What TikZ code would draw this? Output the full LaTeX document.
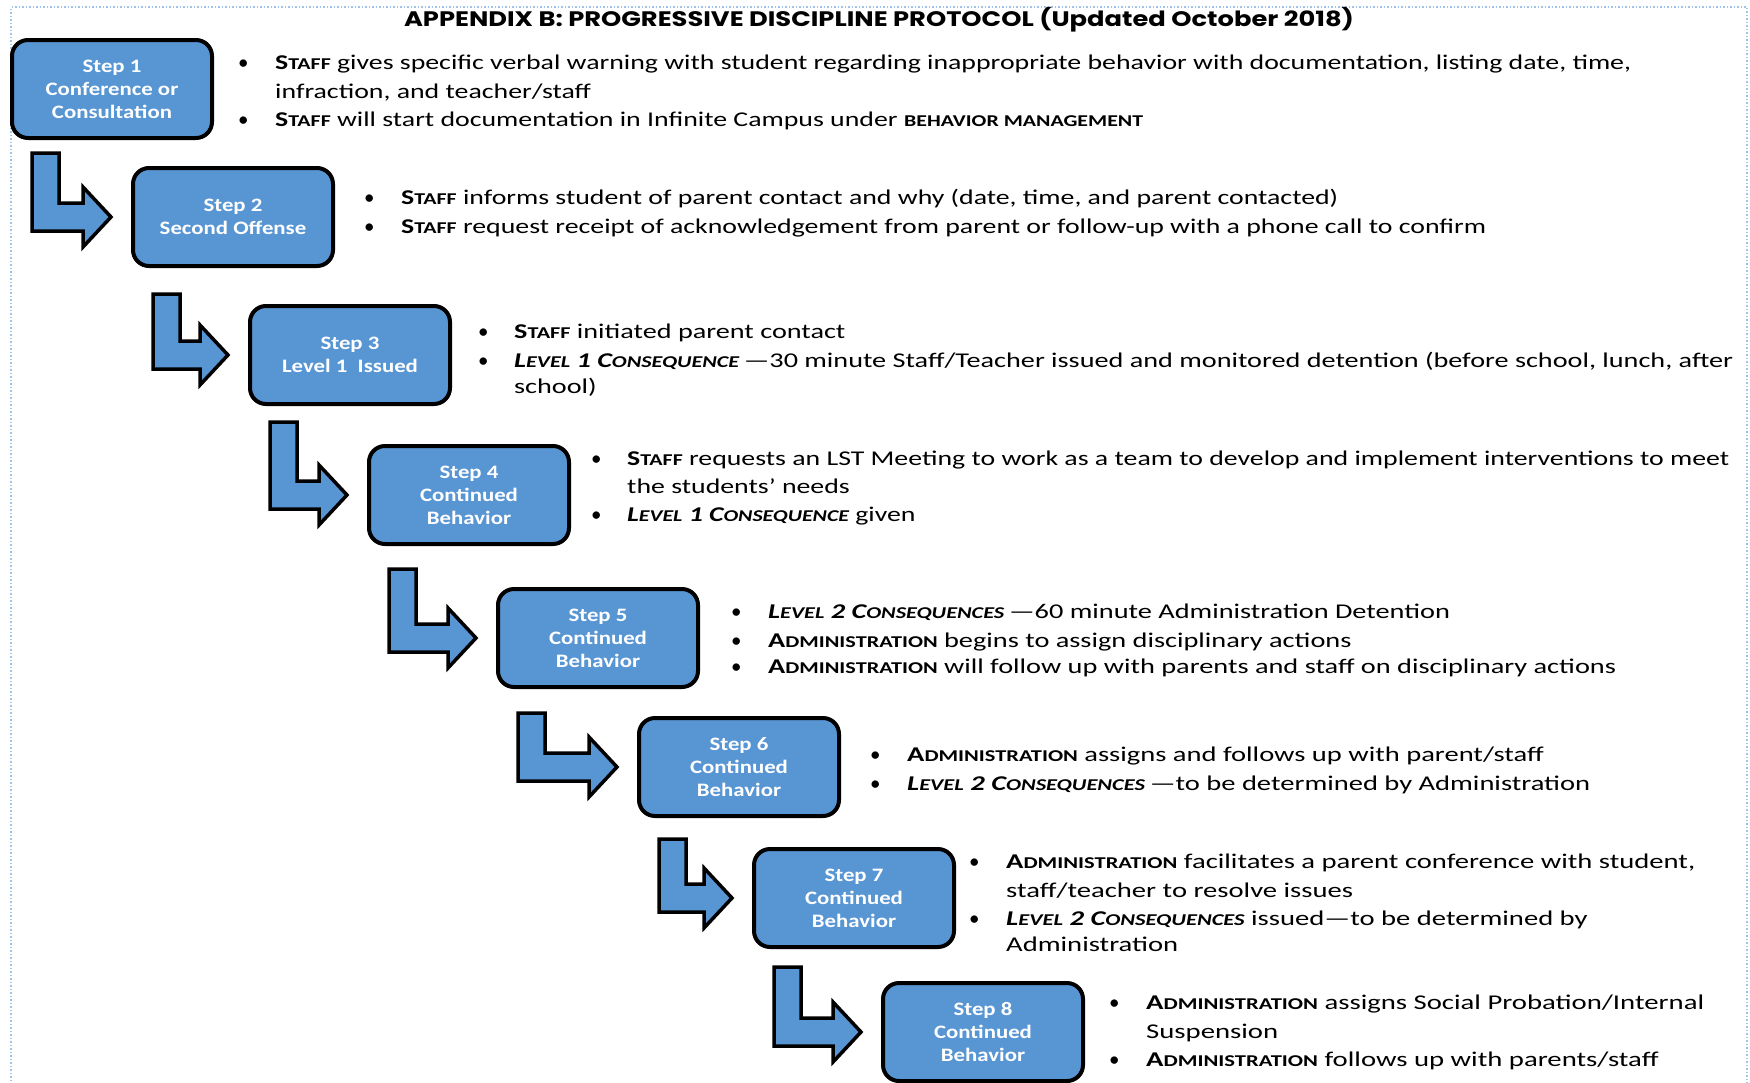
\documentclass[tikz,border=0pt]{standalone}
\usepackage{fontspec}
\usepackage{graphicx}
\usetikzlibrary{calc}
\setmainfont{Carlito}
\newfontfamily\boxfont{Carlito}[FakeStretch=1.2]
\newfontfamily\titlefont{Poppins}
\definecolor{stepblue}{RGB}{88,149,211}
\definecolor{framecol}{RGB}{160,195,235}
\newsavebox\fitbox
\newlength\fitlen
\def\cursx{1}
\newcommand\fitto[2]{\sbox\fitbox{#2}\setlength\fitlen{\wd\fitbox}\pgfmathsetmacro\fitsx{#1/\fitlen}\xdef\cursx{\fitsx}\scalebox{\cursx}[1]{\usebox\fitbox}}
\newcommand\samesc[1]{\scalebox{\cursx}[1]{#1}}
\newcommand\scs[1]{{\fontsize{16.5}{20}\selectfont #1}}
\newcommand\kStaff{{\bfseries S\scs{TAFF}}}
\newcommand\kAdmin{{\bfseries A\scs{DMINISTRATION}}}
\newcommand\kLevOne{{\bfseries\itshape L\scs{EVEL} 1 C\scs{ONSEQUENCE}}}
\newcommand\kLevTwo{{\bfseries\itshape L\scs{EVEL} 2 C\scs{ONSEQUENCES}}}
\newcommand\stepArrow[3]{%
  \coordinate (#1s) at ($(#1.south west)+(22,#3)$);
  \coordinate (#1t) at ($(#2.west)+(-20,0)$);
  \coordinate (#1b) at ($(#1s)+(27,0)$);
  \coordinate (#1u) at ($(#1t)+(0,-14)$);
  \coordinate (#1d) at ($(#1t)+(0,14)$);
  \draw[blockarrow] (#1s) -- (#1b) -- (#1b |- #1u) -- ($(#1u)+(-28,0)$) -- ($(#1t)+(-28,-30)$) -- (#1t) -- ($(#1t)+(-28,30)$) -- ($(#1d)+(-28,0)$) -- (#1s |- #1d) -- cycle;
}
\tikzset{
  stepbox/.style={draw=black, line width=4pt, fill=stepblue, rounded corners=16pt,
    minimum width=200pt, minimum height=98pt, inner sep=0pt, text=white,
    font=\boxfont\bfseries\fontsize{19}{23}\selectfont, align=center},
  blockarrow/.style={draw=black, line width=3.5pt, fill=stepblue, line join=miter},
  txt/.style={anchor=base west, inner sep=0pt, font=\fontsize{21}{28}\selectfont, text=black},
  bul/.style={anchor=base west, inner sep=0pt, font=\fontsize{21}{28}\selectfont, text=black},
}
\begin{document}
\begin{tikzpicture}[x=1pt, y=-1pt]
\useasboundingbox (0,0) rectangle (1750,1082);
\fill[white] (0,0) rectangle (1750,1082);
\clip (0,0) rectangle (1750,1082);
\draw[framecol, line width=1.5pt, dotted] (11,1095) -- (11,7) -- (1747,7) -- (1747,1095);

\node[anchor=base, inner sep=0pt, font=\titlefont\bfseries\fontsize{21}{26}\selectfont] (title) at (879,26)
  {\fitto{950}{APPENDIX B: PROGRESSIVE DISCIPLINE PROTOCOL (Updated October 2018)}};

% step boxes
\node[stepbox] (b1) at (112,89) {Step 1\\Conference or\\Consultation};
\node[stepbox] (b2) at (233,217) {Step 2\\Second Offense};
\node[stepbox] (b3) at (350,355) {Step 3\\Level 1\ \ Issued};
\node[stepbox] (b4) at (469,495) {Step 4\\Continued\\Behavior};
\node[stepbox] (b5) at (598,638) {Step 5\\Continued\\Behavior};
\node[stepbox] (b6) at (739,767) {Step 6\\Continued\\Behavior};
\node[stepbox] (b7) at (854,898) {Step 7\\Continued\\Behavior};
\node[stepbox] (b8) at (983,1032) {Step 8\\Continued\\Behavior};

% bent block arrows
\stepArrow{b1}{b2}{13}
\stepArrow{b2}{b3}{26}
\stepArrow{b3}{b4}{16}
\stepArrow{b4}{b5}{23}
\stepArrow{b5}{b6}{24}
\stepArrow{b6}{b7}{21}
\stepArrow{b7}{b8}{18}

% step 1 text
\node[bul] (u1a) at (238,69) {\textbullet};
\node[bul] (u1b) at (238,126) {\textbullet};
\node[txt] (t1a) at (275,69) {\fitto{1356}{\kStaff{} gives specific verbal warning with student regarding inappropriate behavior with documentation, listing date, time,}};
\node[txt] (t1b) at (275,98) {\samesc{infraction, and teacher/staff}};
\node[txt] (t1c) at (275,126) {\samesc{\kStaff{} will start documentation in Infinite Campus under {\bfseries\scs{BEHAVIOR MANAGEMENT}}}};

% step 2 text
\node[bul] (u2a) at (364,204) {\textbullet};
\node[bul] (u2b) at (364,233) {\textbullet};
\node[txt] (t2b) at (401,233) {\fitto{1085}{\kStaff{} request receipt of acknowledgement from parent or follow-up with a phone call to confirm}};
\node[txt] (t2a) at (401,204) {\samesc{\kStaff{} informs student of parent contact and why (date, time, and parent contacted)}};

% step 3 text
\node[bul] (u3a) at (478,338) {\textbullet};
\node[bul] (u3b) at (478,367) {\textbullet};
\node[txt] (t3b) at (514,367) {\fitto{1219}{\kLevOne\,—30 minute Staff/Teacher issued and monitored detention (before school, lunch, after}};
\node[txt] (t3a) at (514,338) {\samesc{\kStaff{} initiated parent contact}};
\node[txt] (t3c) at (514,393) {\samesc{school)}};

% step 4 text
\node[bul] (u4a) at (591,465) {\textbullet};
\node[bul] (u4b) at (591,521) {\textbullet};
\node[txt] (t4a) at (627,465) {\fitto{1102}{\kStaff{} requests an LST Meeting to work as a team to develop and implement interventions to meet}};
\node[txt] (t4b) at (627,493) {\samesc{the students’ needs}};
\node[txt] (t4c) at (627,521) {\samesc{\kLevOne{} given}};

% step 5 text
\node[bul] (u5a) at (731,618) {\textbullet};
\node[bul] (u5b) at (731,647) {\textbullet};
\node[bul] (u5c) at (731,673) {\textbullet};
\node[txt] (t5c) at (768,673) {\fitto{848}{\kAdmin{} will follow up with parents and staff on disciplinary actions}};
\node[txt] (t5a) at (768,618) {\samesc{\kLevTwo\,—60 minute Administration Detention}};
\node[txt] (t5b) at (768,647) {\samesc{\kAdmin{} begins to assign disciplinary actions}};

% step 6 text
\node[bul] (u6a) at (870,761) {\textbullet};
\node[bul] (u6b) at (870,790) {\textbullet};
\node[txt] (t6b) at (907,790) {\fitto{683}{\kLevTwo\,—to be determined by Administration}};
\node[txt] (t6a) at (907,761) {\samesc{\kAdmin{} assigns and follows up with parent/staff}};

% step 7 text
\node[bul] (u7a) at (969,868) {\textbullet};
\node[bul] (u7b) at (969,925) {\textbullet};
\node[txt] (t7a) at (1006,868) {\fitto{689}{\kAdmin{} facilitates a parent conference with student,}};
\node[txt] (t7b) at (1006,897) {\samesc{staff/teacher to resolve issues}};
\node[txt] (t7c) at (1006,925) {\samesc{\kLevTwo{} issued—to be determined by}};
\node[txt] (t7d) at (1006,951) {\samesc{Administration}};

% step 8 text
\node[bul] (u8a) at (1109,1009) {\textbullet};
\node[bul] (u8b) at (1109,1066) {\textbullet};
\node[txt] (t8a) at (1146,1009) {\fitto{558}{\kAdmin{} assigns Social Probation/Internal}};
\node[txt] (t8b) at (1146,1038) {\samesc{Suspension}};
\node[txt] (t8c) at (1146,1066) {\samesc{\kAdmin{} follows up with parents/staff}};
\end{tikzpicture}
\end{document}
